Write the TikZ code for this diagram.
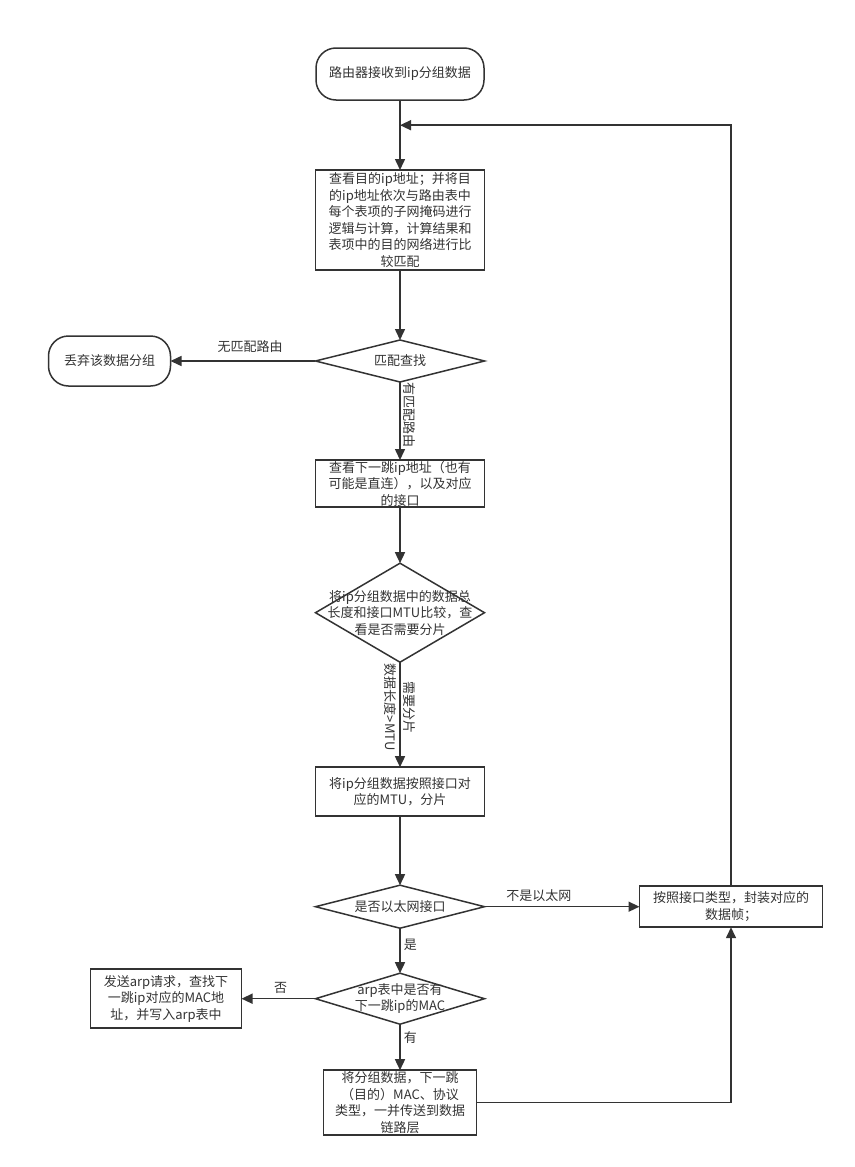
\documentclass[tikz,border=0pt]{standalone}
\usepackage{fontspec}
\usepackage{tikz}
\usetikzlibrary{positioning,arrows.meta,shapes.geometric,calc}
\newfontfamily\cjk{Noto Sans CJK SC}
\definecolor{LineGray}{HTML}{333333}

\begin{document}
\begin{tikzpicture}[
  x=1pt,y=1pt,
  font=\cjk\fontsize{13pt}{16.5pt}\selectfont,
  every node/.style={text=LineGray},
  box/.style={draw=LineGray,line width=1.5pt,align=center,inner sep=1pt,outer sep=0pt},
  term/.style={box,rounded corners=20pt},
  dia/.style={draw=LineGray,line width=1.5pt,diamond,minimum width=169pt,inner sep=0pt,outer sep=0pt},
  arr/.style={-{Triangle[length=11pt,width=10pt]},line width=1.5pt,draw=LineGray},
  lab/.style={inner sep=3pt}
]
\useasboundingbox (0,0) rectangle (854,-1167);
\node[term,minimum width=168pt,minimum height=52pt] (recv) at (400,-74) {路由器接收到ip分组数据};
\node[box,minimum width=169pt,minimum height=100pt,below=70pt of recv] (lookup) {查看目的ip地址；并将目\\的ip地址依次与路由表中\\每个表项的子网掩码进行\\逻辑与计算，计算结果和\\表项中的目的网络进行比\\较匹配};
\node[dia,minimum height=42pt,below=70pt of lookup,label={center:匹配查找}] (match) {};
\node[term,minimum width=122pt,minimum height=50pt,left=145pt of match] (drop) {丢弃该数据分组};
\node[box,minimum width=169pt,minimum height=47pt,below=78pt of match] (nexthop) {查看下一跳ip地址（也有\\可能是直连），以及对应\\的接口};
\node[dia,minimum height=99pt,below=56pt of nexthop,label={[align=center]center:{将ip分组数据中的数据总\\长度和接口MTU比较，查\\看是否需要分片}}] (mtucheck) {};
\node[box,minimum width=169pt,minimum height=49pt,below=105pt of mtucheck] (frag) {将ip分组数据按照接口对\\应的MTU，分片};
\node[dia,minimum height=43pt,below=69pt of frag,label={center:是否以太网接口}] (ether) {};
\node[box,minimum width=183pt,minimum height=41pt,right=155pt of ether] (encap) {按照接口类型，封装对应的\\数据帧；};
\node[dia,minimum height=51pt,below=45pt of ether,label={[align=center]center:{arp表中是否有\\下一跳ip的MAC}}] (arpq) {};
\node[box,minimum width=151pt,minimum height=59pt,left=74pt of arpq] (arpreq) {发送arp请求，查找下\\一跳ip对应的MAC地\\址，并写入arp表中};
\node[box,minimum width=153pt,minimum height=65pt,below=46pt of arpq] (send) {将分组数据，下一跳\\（目的）MAC、协议\\类型，一并传送到数据\\链路层};
\coordinate (merge) at ($(recv.south)!0.36!(lookup.north)$);
\draw[arr] (recv) -- (lookup);
\draw[arr] (lookup) -- (match);
\draw[arr] (match) -- node[lab,above=5pt,pos=0.45] {无匹配路由} (drop);
\draw[arr] (match) -- node[lab,rotate=-90,anchor=south,pos=0.42] {有匹配路由} (nexthop);
\draw[arr] (nexthop) -- (mtucheck);
\draw[arr] (mtucheck) -- node[lab,rotate=-90,anchor=north,pos=0.43] {数据长度>MTU} node[lab,rotate=-90,anchor=south,pos=0.43] {需要分片} (frag);
\draw[arr] (frag) -- (ether);
\draw[arr] (ether) -- node[lab,above=1.5pt,pos=0.35] {不是以太网} (encap);
\draw[arr] (ether) -- node[lab,right,pos=0.38] {是} (arpq);
\draw[arr] (arpq) -- node[lab,above=1.5pt,pos=0.47] {否} (arpreq);
\draw[arr] (arpq) -- node[lab,right,pos=0.3] {有} (send);
\draw[arr] (send) -| (encap);
\draw[arr] (encap) |- (merge);
\end{tikzpicture}
\end{document}
